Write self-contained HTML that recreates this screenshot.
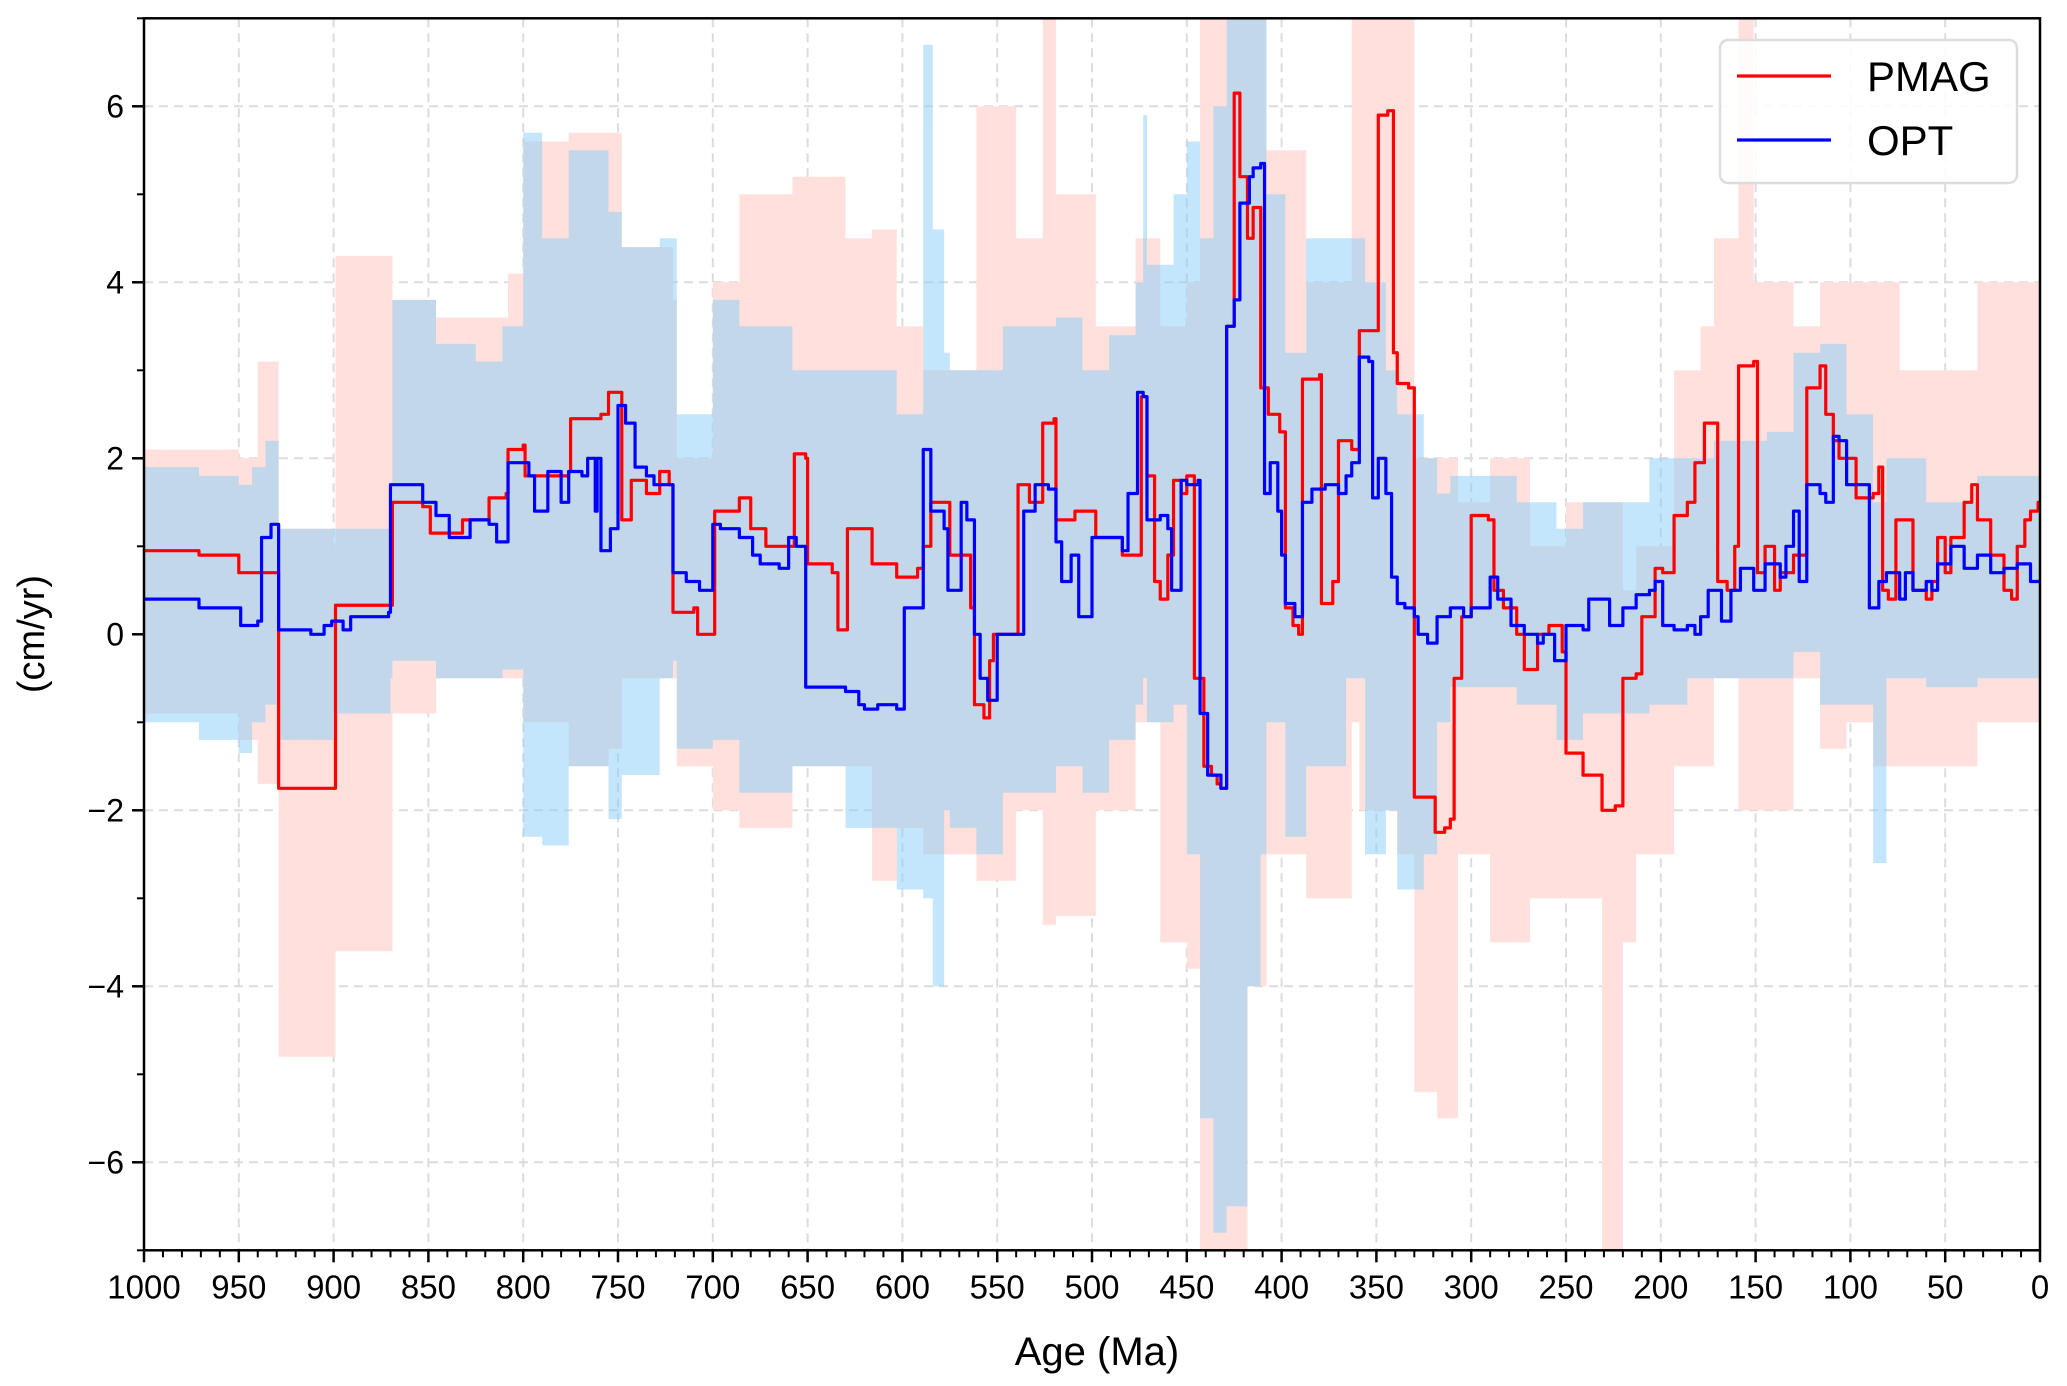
<!DOCTYPE html>
<html><head><meta charset="utf-8"><style>
body{margin:0;background:#fff}
svg{display:block;font-family:"Liberation Sans",Arial,sans-serif}
</style></head><body>
<svg id="chart" width="2067" height="1386" viewBox="0 0 2067 1386" xmlns="http://www.w3.org/2000/svg">
<defs><clipPath id="plotclip"><rect x="144" y="18.3" width="1896" height="1232"/></clipPath></defs>
<g id="grid"></g>
<g id="bands" clip-path="url(#plotclip)"></g>
<g id="lines" clip-path="url(#plotclip)"></g>
<g id="axes"></g>
<text x="1097" y="1365" font-size="40" text-anchor="middle">Age (Ma)</text>
<text transform="translate(44,634) rotate(-90)" font-size="38" text-anchor="middle">(cm/yr)</text>
<g>
<rect x="1720" y="40" width="297" height="143" rx="8" fill="#fff" fill-opacity="0.85" stroke="#ddd" stroke-width="2.5"/>
<g><line x1="1737" y1="76" x2="1831" y2="76" stroke="#f00" stroke-width="3.2"/><text x="1867" y="91" font-size="42">PMAG</text></g>
<g><line x1="1737" y1="140" x2="1831" y2="140" stroke="#00f" stroke-width="3.2"/><text x="1867" y="155" font-size="42">OPT</text></g>
</g>
</svg>
<script>
const xTicks=[1000,950,900,850,800,750,700,650,600,550,500,450,400,350,300,250,200,150,100,50,0];
const yTicks=[-6,-4,-2,0,2,4,6];
const pmagAge=[1000,971,950,933,929,900,899,870,869,853,849,832,818,809,808,800,799,776,775,759,755,752,748,743,735,728,723,721,710,708,700,699,686,680,672,660,657,651,650,637,634,630,629,620,616,603,592,589,585,575,564,562,557,554,552,540,539,533,526,520,519,509,498,484,474,471,467,464,460,457,453,450,446,441,437,434,432,429,425,422,418,415,411,407,401,398,394,391,389,380,379,373,370,363,359,352,349,344,341,339,333,330,321,319,314,311,309,305,300,291,288,283,276,272,268,265,259,252,250,241,234,231,224,220,213,210,203,199,193,186,182,177,173,170,165,161,159,151,149,145,140,137,130,123,116,113,109,106,99,97,88,85,83,80,76,71,67,60,57,54,50,47,40,36,33,26,19,15,12,8,5,1];
const pmagVal=[0.95,0.9,0.7,0.7,-1.75,-1.75,0.33,0.33,1.5,1.45,1.15,1.3,1.55,1.6,2.1,2.15,1.8,1.85,2.45,2.5,2.75,2.75,1.3,1.75,1.6,1.85,1.7,0.25,0.3,0.0,0.0,1.4,1.55,1.2,1.0,1.0,2.05,2.0,0.8,0.7,0.05,0.05,1.2,1.2,0.8,0.65,0.75,1.0,1.5,0.9,0.3,-0.8,-0.95,-0.3,0.0,0.0,1.7,1.5,2.4,2.45,1.3,1.4,1.1,0.9,2.7,1.8,0.6,0.4,0.9,1.75,1.6,1.8,-0.5,-1.5,-1.6,-1.7,-1.75,3.5,6.15,5.2,4.5,4.85,2.8,2.5,2.3,0.3,0.1,0.0,2.9,2.95,0.35,0.6,2.2,2.1,3.45,3.45,5.9,5.95,3.2,2.85,2.8,-1.85,-1.85,-2.25,-2.2,-2.1,-0.5,0.2,1.35,1.3,0.5,0.3,0.0,-0.4,-0.4,0.0,0.1,-0.2,-1.35,-1.6,-1.6,-2.0,-1.95,-0.5,-0.45,0.2,0.75,0.7,1.35,1.5,1.95,2.4,2.4,0.6,0.5,1.0,3.05,3.1,0.7,1.0,0.5,0.7,0.9,2.8,3.05,2.5,2.2,2.0,2.0,1.55,1.6,1.9,0.5,0.4,1.3,1.3,0.5,0.4,0.6,1.1,0.7,1.1,1.5,1.7,1.3,0.9,0.5,0.4,1.0,1.3,1.4,1.5];
const optAge=[1000,971,950,949,940,938,933,929,919,912,905,901,895,891,880,871,870,853,846,839,828,818,814,808,797,794,787,780,776,769,766,762,761,759,754,750,746,741,735,731,721,714,707,700,696,686,679,675,665,660,656,651,630,623,620,613,603,599,592,589,585,578,576,573,569,566,562,559,555,550,540,536,530,523,519,516,511,507,504,500,491,484,481,476,473,471,464,460,458,453,450,444,443,439,432,429,425,422,417,415,411,409,406,402,400,398,393,389,384,377,370,366,363,359,354,352,349,345,342,339,335,330,328,323,318,311,304,300,293,290,286,279,272,265,262,256,252,250,241,238,233,227,220,213,206,203,199,193,186,182,179,175,172,168,163,158,151,145,137,134,130,127,123,116,113,109,106,102,95,90,85,81,74,71,67,60,57,54,47,40,33,26,19,12,5,1];
const optVal=[0.4,0.3,0.3,0.1,0.15,1.1,1.25,0.05,0.05,0.0,0.1,0.15,0.05,0.2,0.2,0.25,1.7,1.5,1.35,1.1,1.3,1.25,1.05,1.95,1.8,1.4,1.85,1.5,1.85,1.8,2.0,1.4,2.0,0.95,1.2,2.6,2.4,1.9,1.8,1.7,0.7,0.6,0.5,1.25,1.2,1.1,0.9,0.8,0.75,1.1,1.0,-0.6,-0.65,-0.8,-0.85,-0.8,-0.85,0.3,0.3,2.1,1.4,1.2,0.5,0.5,1.5,1.3,0.0,-0.5,-0.75,0.0,0.0,1.4,1.7,1.65,1.05,0.6,0.9,0.2,0.2,1.1,1.1,0.95,1.6,2.75,2.7,1.3,1.35,1.2,0.5,1.75,1.7,1.75,-0.9,-1.6,-1.75,3.5,3.8,4.9,5.2,5.3,5.35,1.6,1.95,1.4,0.9,0.35,0.2,1.5,1.65,1.7,1.6,1.8,1.95,3.15,3.1,1.55,2.0,1.6,0.65,0.35,0.3,0.2,0.0,-0.1,0.2,0.3,0.2,0.3,0.3,0.65,0.4,0.1,0.0,-0.1,0.0,-0.3,-0.3,0.1,0.05,0.4,0.4,0.1,0.3,0.45,0.5,0.6,0.1,0.05,0.1,0.0,0.2,0.5,0.5,0.15,0.5,0.75,0.5,0.8,0.65,1.0,1.4,0.6,1.7,1.6,1.5,2.25,2.2,1.7,1.7,0.3,0.6,0.7,0.4,0.7,0.5,0.6,0.5,0.8,1.0,0.75,0.9,0.7,0.75,0.8,0.6,0.6];
const optBandAge=[1000,971,950,943,936,929,900,870,869,846,825,811,800,790,776,755,748,728,721,719,700,686,658,630,603,589,584,578,575,561,547,519,505,491,477,473,471,457,450,443,436,429,418,411,408,398,387,366,356,345,339,325,318,311,276,255,241,206,186,172,144,130,116,102,88,81,60,33,0];
const optUpper=[1.9,1.8,1.7,1.9,2.2,1.2,1.2,1.5,3.8,3.3,3.1,3.5,5.7,4.5,5.5,4.8,4.4,4.5,4.5,2.5,3.8,3.5,3.0,3.0,2.5,6.7,4.6,3.2,3.0,3.0,3.5,3.6,3.0,3.4,4.0,5.9,4.2,5.0,5.6,4.5,6.0,7.5,7.5,7.5,5.0,3.2,4.5,4.5,4.0,3.0,2.5,2.0,1.6,1.8,1.5,1.2,1.5,2.0,2.0,2.2,2.3,3.2,3.3,2.5,1.5,2.0,1.5,1.8,1.6];
const optLower=[-1.0,-1.2,-1.35,-1.0,-0.8,-1.2,-0.9,-0.5,-0.3,-0.5,-0.5,-0.4,-2.3,-2.4,-1.5,-2.1,-1.6,-0.5,-0.3,-1.3,-1.2,-1.8,-1.5,-2.2,-2.9,-3.0,-4.0,-2.0,-2.2,-2.5,-1.8,-1.5,-1.8,-1.2,-0.8,-0.5,-1.0,-0.8,-2.5,-5.5,-6.8,-6.5,-4.0,-2.5,-1.0,-2.3,-1.5,-0.5,-2.5,-2.0,-2.9,-2.5,-1.0,-0.6,-0.8,-1.2,-0.9,-0.8,-0.5,-0.5,-0.5,-0.2,-0.8,-0.8,-2.6,-0.5,-0.6,-0.5,-0.5];
const pmagBandAge=[1000,950,940,929,900,899,870,869,846,818,808,800,776,755,748,721,719,700,686,658,630,616,603,589,561,540,526,519,498,477,464,450,443,429,418,408,387,363,359,339,330,318,311,307,290,269,250,231,220,213,193,179,172,159,151,130,116,102,88,74,33,0];
const pmagUpper=[2.1,2.0,3.1,1.2,1.0,4.3,4.3,3.8,3.6,3.6,4.1,5.6,5.7,5.7,4.4,3.8,2.0,4.0,5.0,5.2,4.5,4.6,3.5,3.0,6.0,4.5,7.5,5.0,3.5,4.5,3.5,4.0,7.5,7.5,7.5,5.5,4.0,7.5,7.5,7.5,2.0,2.0,2.0,1.5,2.0,1.0,1.5,1.5,0.5,1.0,3.0,3.5,4.5,7.5,4.0,3.5,4.0,4.0,4.0,3.0,4.0,4.2];
const pmagLower=[-0.9,-1.2,-1.7,-4.8,-4.8,-3.6,-3.6,-0.9,-0.5,-0.5,-0.5,-1.0,-1.5,-1.3,-0.5,-0.5,-1.5,-2.0,-2.2,-1.5,-1.5,-2.8,-2.2,-2.5,-2.8,-2.0,-3.3,-3.2,-2.0,-1.0,-3.5,-3.8,-7.5,-7.5,-4.0,-2.5,-3.0,-1.0,-2.0,-2.5,-5.2,-5.5,-5.5,-2.5,-3.5,-3.0,-3.0,-7.5,-3.5,-2.5,-1.5,-1.5,-0.5,-2.0,-2.0,-0.5,-1.3,-1.0,-1.5,-1.5,-1.0,-1.2];

const NS='http://www.w3.org/2000/svg';
const X0=144,X1=2040,Y0=18.3,Y1=1250.3;
function xs(a){return X0+(1000-a)/1000*(X1-X0);}
function ys(v){return Y0+(7-v)/14*(Y1-Y0);}
function mk(tag,attrs,parent){const e=document.createElementNS(NS,tag);for(const k in attrs)e.setAttribute(k,attrs[k]);parent.appendChild(e);return e;}

const grid=document.getElementById('grid'),axes=document.getElementById('axes');
const bands=document.getElementById('bands'),lines=document.getElementById('lines');
xTicks.forEach(t=>{
  const g=mk('line',{x1:xs(t),x2:xs(t),y1:Y0,y2:Y1,stroke:'#dcdcdc','stroke-width':2,'stroke-dasharray':'9,6'},grid);
  
  
  mk('line',{x1:xs(t),x2:xs(t),y1:Y1,y2:Y1+12,stroke:'#000','stroke-width':2.5},axes);
  const tx=mk('text',{x:xs(t),y:Y1+48,'font-size':33,'text-anchor':'middle'},axes);
  tx.textContent=t;
  
  
});
for(let a=990;a>0;a-=10){if(a%50)mk('line',{x1:xs(a),x2:xs(a),y1:Y1,y2:Y1+7,stroke:'#000','stroke-width':2},axes);}
yTicks.forEach(t=>{
  const g=mk('line',{x1:X0,x2:X1,y1:ys(t),y2:ys(t),stroke:'#dcdcdc','stroke-width':2,'stroke-dasharray':'9,6'},grid);
  
  
  mk('line',{x1:X0-12,x2:X0,y1:ys(t),y2:ys(t),stroke:'#000','stroke-width':2.5},axes);
  const tx=mk('text',{x:X0-20,y:ys(t)+11,'font-size':32,'text-anchor':'end'},axes);
  tx.textContent=(t<0?'\u2212'+(-t):t);
  
  
});
for(let v=-7;v<=7;v++){if(v%2)mk('line',{x1:X0-7,x2:X0,y1:ys(v),y2:ys(v),stroke:'#000','stroke-width':2},axes);}
mk('rect',{x:X0,y:Y0,width:X1-X0,height:Y1-Y0,fill:'none',stroke:'#000','stroke-width':2.5},axes);

function stepFwd(ages,vals){
  let d='M'+xs(ages[0])+','+ys(vals[0]);
  for(let i=1;i<ages.length;i++)d+='H'+xs(ages[i])+'V'+ys(vals[i]);
  return d;
}
function band(ages,up,lo,fill,op,name){
  let d=stepFwd(ages,up);
  const n=ages.length-1;
  d+='H'+xs(0)+'V'+ys(lo[n]);
  for(let i=n;i>0;i--)d+='H'+xs(ages[i])+'V'+ys(lo[i-1]);
  d+='H'+xs(ages[0]);
  const p=mk('path',{d:d+'Z',fill:fill,'fill-opacity':op},bands);
  
  
}
band(pmagBandAge,pmagUpper,pmagLower,'rgb(255,224,220)',1,'pmag-band');
band(optBandAge,optUpper,optLower,'rgb(135,206,250)',0.5,'opt-band');
function line(ages,vals,color,name){
  const p=mk('path',{d:stepFwd(ages,vals)+'H'+xs(0),fill:'none',stroke:color,'stroke-width':3.2,'stroke-linejoin':'round'},lines);
  
  
}
line(pmagAge,pmagVal,'#f00','pmag-line');
line(optAge,optVal,'#00f','opt-line');
</script>
</body></html>
